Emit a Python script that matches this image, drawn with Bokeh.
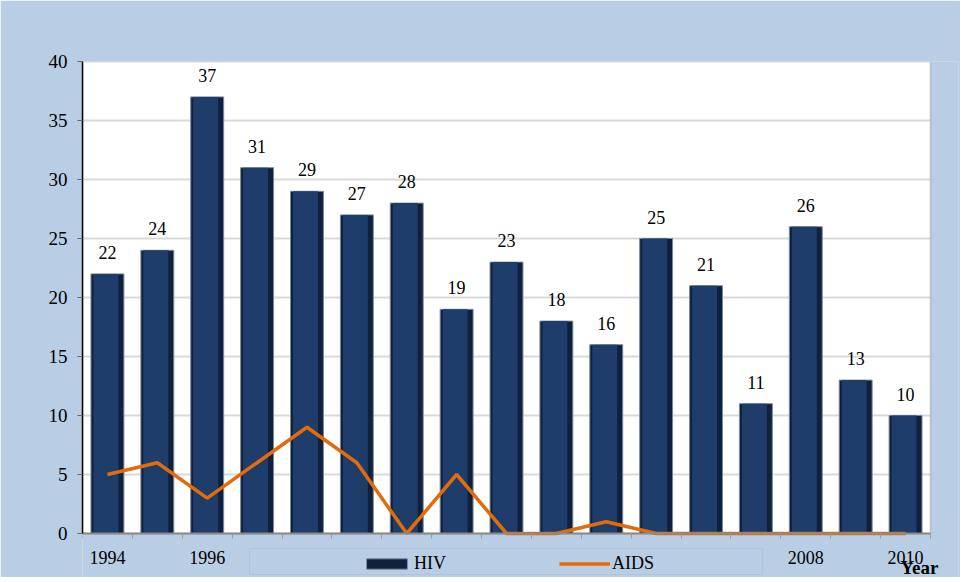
from bokeh.plotting import figure
from bokeh.models import (ColumnDataSource, FixedTicker, Legend, LegendItem,
                          BoxAnnotation, Label, Range1d)
from bokeh.transform import dodge
from bokeh.embed import file_html
from bokeh.resources import INLINE
from bokeh.core.properties import value

years = [1994, 1995, 1996, 1997, 1998, 1999, 2000, 2001, 2002,
         2003, 2004, 2005, 2006, 2007, 2008, 2009, 2010]
hiv = [22, 24, 37, 31, 29, 27, 28, 19, 23, 18, 16, 25, 21, 11, 26, 13, 10]
aids = [5, 6, 3, 6, 9, 6, 0, 5, 0, 0, 1, 0, 0, 0, 0, 0, 0]
labeled_years = [1994, 1996, 2008, 2010]
y_ticks = [0, 5, 10, 15, 20, 25, 30, 35, 40]

src = ColumnDataSource(dict(year=years, hiv=hiv, aids=aids,
                            lab=[str(v) for v in hiv]))

FONT = "Liberation Serif"
BG = "#b9cde4"

# plot area: 0..40 spans 472 px, 17 categories span 848 px.
# The frame is extended below zero (legend row) and to the right ("Year").
PLOT_W, PLOT_H = 848, 472
BELOW, RIGHT = 44, 28
y_min = -BELOW * 40 / PLOT_H
x_lo = years[0] - 0.5
x_hi = years[-1] + 0.5
x_max = x_hi + RIGHT * (x_hi - x_lo) / PLOT_W

p = figure(frame_width=PLOT_W + RIGHT, frame_height=PLOT_H + BELOW,
           min_border_left=82, min_border_right=2,
           min_border_top=61, min_border_bottom=0,
           x_range=Range1d(x_lo, x_max),
           y_range=Range1d(y_min, 40),
           output_backend="svg", toolbar_location=None)

p.border_fill_color = BG
p.background_fill_color = BG
p.outline_line_color = None

# white plot area (drawn beneath the grid)
p.add_layout(BoxAnnotation(bottom=0, top=40, left=x_lo, right=x_hi,
                           fill_color="white", fill_alpha=1.0,
                           line_color=None, level="image"))

# grid
p.xgrid.visible = False
p.ygrid.grid_line_color = "#d9d9d9"
p.ygrid.grid_line_width = 2
p.ygrid.ticker = FixedTicker(ticks=y_ticks[1:])

# blue strip to the right of the plot area (covers grid overshoot)
p.add_layout(BoxAnnotation(left=x_hi, fill_color=BG, fill_alpha=1.0,
                           line_color=None, level="underlay"))
# plot-area border (top / right)
p.add_layout(BoxAnnotation(bottom=0, top=40, left=x_lo, right=x_hi,
                           fill_alpha=0, line_color="#8a8a8a", line_width=2,
                           level="underlay"))

# bars (outer dark body + inner lighter face for bevel look)
r_hiv = p.vbar(x="year", top="hiv", bottom=0, width=0.66, source=src,
               fill_color="#0f213d", line_color="#7a8a9e", line_width=1)
p.vbar(x=dodge("year", -0.03, range=p.x_range), top="hiv", bottom=0,
       width=0.50, source=src, fill_color="#1f3d6b", line_color=None)

# AIDS line
r_aids = p.line(x="year", y="aids", source=src, line_color="#e36c0a",
                line_width=3.5)

# value labels
p.text(x="year", y="hiv", text="lab", source=src, text_align="center",
       text_baseline="bottom", y_offset=-15, text_font=value(FONT),
       text_font_size="18px", text_color="black")

# y axis
p.yaxis.bounds = (0, 40)
p.yaxis.ticker = FixedTicker(ticks=y_ticks)
p.yaxis.major_label_text_font = FONT
p.yaxis.major_label_text_font_size = "19px"
p.yaxis.major_label_text_color = "black"
p.yaxis.axis_line_color = "black"
p.yaxis.axis_line_width = 1.5
p.yaxis.major_tick_line_color = "#666666"
p.yaxis.major_tick_in = 0
p.yaxis.major_tick_out = 5
p.yaxis.minor_tick_line_color = None
p.yaxis.major_label_standoff = 10

# x axis, fixed at y = 0
p.xaxis.fixed_location = 0
p.xaxis.bounds = (x_lo, x_hi)
p.xaxis.ticker = FixedTicker(ticks=labeled_years,
                             minor_ticks=[y - 0.5 for y in years] + [x_hi])
p.xaxis.major_label_overrides = {y: str(y) for y in labeled_years}
p.xaxis.major_label_text_font = FONT
p.xaxis.major_label_text_font_size = "18px"
p.xaxis.major_label_text_color = "black"
p.xaxis.axis_line_color = "#8a8a8a"
p.xaxis.axis_line_width = 2
p.xaxis.major_tick_in = 0
p.xaxis.major_tick_out = 0
p.xaxis.minor_tick_in = 0
p.xaxis.minor_tick_out = 5
p.xaxis.minor_tick_line_color = "#9a9a9a"
p.xaxis.major_label_standoff = 12

# legend frame
p.add_layout(BoxAnnotation(left=167, right=680, bottom=3, top=29,
                           left_units="screen", right_units="screen",
                           bottom_units="screen", top_units="screen",
                           fill_color=BG, fill_alpha=1.0,
                           line_color="#a3acb8", line_width=1,
                           level="underlay"))

legend = Legend(items=[LegendItem(label="HIV", renderers=[r_hiv]),
                       LegendItem(label="AIDS", renderers=[r_aids])],
                location=(279, 3), orientation="horizontal",
                glyph_width=51, glyph_height=13, label_standoff=2,
                spacing=113, padding=4, margin=0,
                background_fill_alpha=0, border_line_color=None,
                label_text_font=FONT, label_text_font_size="18px",
                label_text_color="black")
p.add_layout(legend, "center")

p.add_layout(Label(x=837, y=10, x_units="screen", y_units="screen",
                   text="Year", text_font=FONT, text_font_size="19px",
                   text_font_style="bold", text_color="black",
                   text_align="center", text_baseline="middle"))

open("out.html", "w").write(file_html(p, INLINE))
